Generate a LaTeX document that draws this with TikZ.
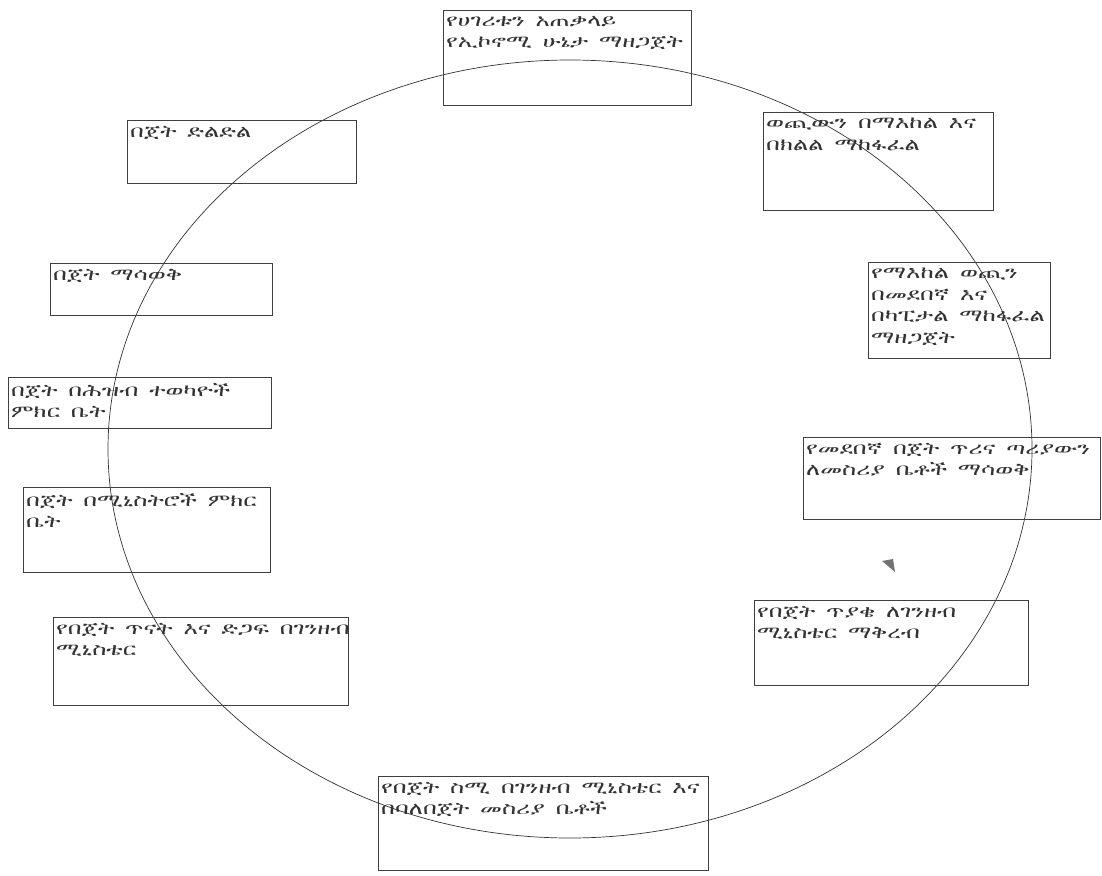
\documentclass[tikz,border=0pt]{standalone}
\usepackage{fontspec}
\newfontfamily\ethfont[FakeStretch=1.42, WordSpace=1.8]{FreeSerif}
\tikzset{
  stagebox/.style={draw=black!75, line width=0.8pt, anchor=north west, inner sep=0pt},
  stagetext/.style={anchor=north west, align=left, inner xsep=3pt, inner ysep=6pt,
    font=\ethfont\fontsize{17}{21.5}\selectfont, text=black!80}
}

\begin{document}
\begin{tikzpicture}[x=1pt, y=-1pt]

    \useasboundingbox (0,0) rectangle (1102,875);

    % the cycle
    \draw[black!80, line width=0.7pt] (570,449) ellipse [x radius=462, y radius=389];

    % stages
    \node[stagebox, minimum width=248, minimum height=95] (b1) at (443,10) {};
    \node[stagetext] (t1) at (b1.north west) {የሀገሪቱን አጠቃላይ\\የኢኮኖሚ ሁኔታ ማዘጋጀት};

    \node[stagebox, minimum width=230, minimum height=98] (b2) at (763,112) {};
    \node[stagetext] (t2) at (b2.north west) {ወጪውን በማእከል እና\\በክልል ማከፋፈል};

    \node[stagebox, minimum width=182, minimum height=96] (b3) at (868,262) {};
    \node[stagetext] (t3) at (b3.north west) {የማእከል ወጪን\\በመደበኛ እና\\በካፒታል ማከፋፈል\\ማዘጋጀት};

    \node[stagebox, minimum width=297, minimum height=82] (b4) at (803,437) {};
    \node[stagetext] (t4) at (b4.north west) {የመደበኛ በጀት ጥሪና ጣሪያውን\\ለመስሪያ ቤቶች ማሳወቅ};

    \node[stagebox, minimum width=274, minimum height=85] (b5) at (754,600) {};
    \node[stagetext] (t5) at (b5.north west) {የበጀት ጥያቄ ለገንዘብ\\ሚኒስቴር ማቅረብ};

    \node[stagebox, minimum width=330, minimum height=94] (b6) at (378,776) {};
    \node[stagetext] (t6) at (b6.north west) {የበጀት ስሚ በገንዘብ ሚኒስቴር እና\\በባለበጀት መስሪያ ቤቶች};

    \node[stagebox, minimum width=295, minimum height=88] (b7) at (53,617) {};
    \node[stagetext] (t7) at (b7.north west) {የበጀት ጥናት እና ድጋፍ በገንዘብ\\ሚኒስቴር};

    \node[stagebox, minimum width=247, minimum height=85] (b8) at (23,487) {};
    \node[stagetext] (t8) at (b8.north west) {በጀት በሚኒስትሮች ምክር\\ቤት};

    \node[stagebox, minimum width=263, minimum height=51] (b9) at (8,377) {};
    \node[stagetext] (t9) at (b9.north west) {በጀት በሕዝብ ተወካዮች\\ምክር ቤት};

    \node[stagebox, minimum width=222, minimum height=52] (b10) at (50,263) {};
    \node[stagetext] (t10) at (b10.north west) {በጀት ማሳወቅ};

    \node[stagebox, minimum width=229, minimum height=63] (b11) at (127,120) {};
    \node[stagetext] (t11) at (b11.north west) {በጀት ድልድል};

    % stray mark of the scan
    \fill[black!55] (882,561) -- (893,559) -- (895,572) -- cycle;

\end{tikzpicture}
\end{document}
